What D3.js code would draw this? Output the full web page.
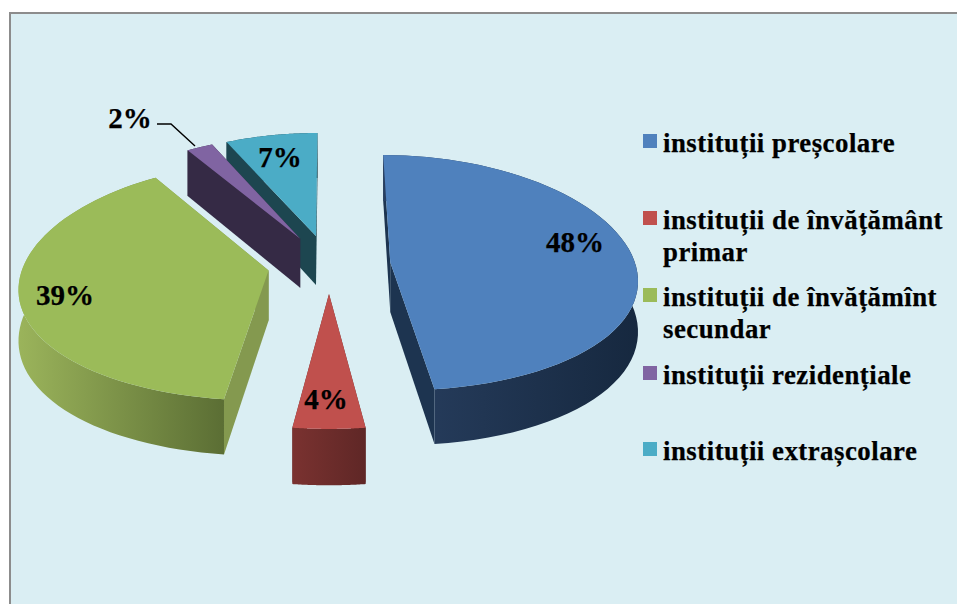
<!DOCTYPE html>
<html lang="ro">
<head>
<meta charset="utf-8">
<script src="https://cdn.jsdelivr.net/npm/d3@7"></script>
<style>
html,body{margin:0;padding:0;background:#fff;overflow:hidden}
svg{display:block}
text{font-family:"Liberation Serif","Times New Roman",serif;font-weight:700;fill:#000;stroke:#000;stroke-width:.25px}
</style>
</head>
<body>
<svg id="c" width="957" height="604"></svg>
<script>
// ---- data ----
const categories = [
  ["instituții preșcolare"],
  ["instituții de învățământ", "primar"],
  ["instituții de învățămînt", "secundar"],
  ["instituții rezidențiale"],
  ["instituții extrașcolare"]
];
const values = [48, 4, 39, 2, 7];
const topColors = ["#4f81bd", "#c0504d", "#9bbb59", "#8064a2", "#4bacc6"];
const rimFrom  = ["#283f60", "#7a3230", "#9bb45b", "#352a45", "#1d4650"];
const rimTo    = ["#16283f", "#5f2726", "#5b6e34", "#352a45", "#1d4650"];
const cutColors = ["#1d3450", "#632a29", "#84994f", "#352a45", "#1d4650"];

// ---- layout ----
const W = 957, H = 604;
const cx = 329, cy = 264, Rx = 245, Ry = 117, depth = 50, explode = 0.251;
const px = 0.13, py = 0.09;
const svg = d3.select("#c");

svg.append("rect").attr("x", 9).attr("y", 12).attr("width", W - 9).attr("height", H - 12).attr("fill", "#8c8c8c");
svg.append("rect").attr("x", 11).attr("y", 14).attr("width", W - 11).attr("height", H - 14).attr("fill", "#daeef3");

const arcs = d3.pie().sort(null).value(d => d)(values);

// ground plane (u right, v toward viewer) -> screen, h = 0 top face, 1 bottom
function project(u, v, h) {
  const sx = 1 / (1 - px * v), sy = 1 / (1 - py * v);
  return [cx + Rx * u * sx, cy + Ry * v * sy + h * depth * sy];
}
const line = d3.line().curve(d3.curveLinearClosed);

const defs = svg.append("defs");
arcs.forEach((a, i) => {
  const g = defs.append("linearGradient").attr("id", "rim" + i);
  g.append("stop").attr("offset", 0).attr("stop-color", rimFrom[i]);
  g.append("stop").attr("offset", 1).attr("stop-color", rimTo[i]);
});

const drawOrder = [4, 3, 2, 1, 0];
drawOrder.forEach(i => {
  const a = arcs[i];
  const mid = (a.startAngle + a.endAngle) / 2;
  const ou = explode * Math.sin(mid), ov = -explode * Math.cos(mid);
  const angles = d3.range(0, 61).map(k => a.startAngle + (a.endAngle - a.startAngle) * k / 60);
  const rim = h => angles.map(t => project(ou + Math.sin(t), ov - Math.cos(t), h));
  const apex = h => project(ou, ov, h);
  const g = svg.append("g");
  const rt = rim(0), rb = rim(1);
  const startFace = [apex(0), rt[0], rb[0], apex(1)];
  const endFace = [apex(0), rt[60], rb[60], apex(1)];
  g.append("path").attr("d", line(endFace)).attr("fill", cutColors[i]);
  g.append("path").attr("d", line(startFace)).attr("fill", cutColors[i]);
  g.append("path").attr("d", line(rt.concat(rb.slice().reverse()))).attr("fill", `url(#rim${i})`);
  g.append("path").attr("d", line([apex(0)].concat(rt))).attr("fill", topColors[i]);
});

// data labels
const labelPos = [[575, 252], [326, 409], [65, 305], [130, 128], [280, 167]];
arcs.forEach((a, i) => {
  svg.append("text").attr("x", labelPos[i][0]).attr("y", labelPos[i][1])
    .attr("text-anchor", "middle").attr("font-size", 29).text(a.data + "%");
});
svg.append("path").attr("d", "M157,124H171L195,146").attr("fill", "none")
  .attr("stroke", "#000").attr("stroke-width", 1.4);

// legend
const legendY = [152, 229, 306, 384, 460];
categories.forEach((lines, i) => {
  svg.append("rect").attr("x", 643).attr("y", legendY[i] - 18).attr("width", 14).attr("height", 14)
    .attr("fill", topColors[i]);
  lines.forEach((t, k) => {
    svg.append("text").attr("x", 663).attr("y", legendY[i] + k * 32)
      .attr("font-size", 26.8).attr("letter-spacing", 0.5).text(t);
  });
});
</script>
</body>
</html>
